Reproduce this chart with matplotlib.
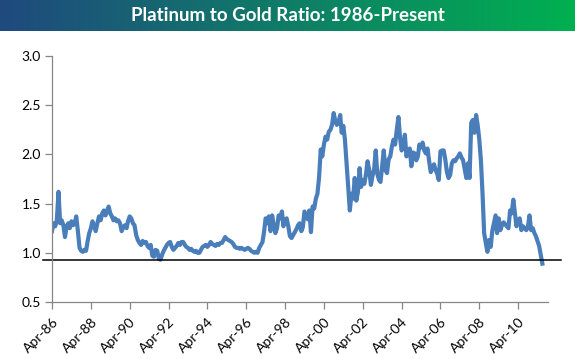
import numpy as np
import pandas as pd
import matplotlib
matplotlib.use("Agg")
import matplotlib.pyplot as plt
from matplotlib.colors import LinearSegmentedColormap
from matplotlib.transforms import blended_transform_factory, ScaledTranslation

TITLE = "Platinum to Gold Ratio: 1986-Present"

# monthly platinum/gold ratio, Apr 1986 - Jul 2011
months = pd.date_range("1986-04-01", "2011-07-01", freq="MS")
ratio = [
    1.22, 1.30, 1.27, 1.33, 1.62, 1.30, 1.33, 1.28, 1.16,                    # 1986 Apr-Dec
    1.27, 1.30, 1.25, 1.32, 1.28, 1.30, 1.37, 1.22, 1.05, 1.02, 1.01, 1.03,  # 1987
    1.02, 1.12, 1.20, 1.25, 1.32, 1.27, 1.22, 1.30, 1.37, 1.33, 1.40, 1.43,  # 1988
    1.38, 1.43, 1.47, 1.40, 1.37, 1.33, 1.35, 1.32, 1.33, 1.30, 1.22, 1.26,  # 1989
    1.28, 1.25, 1.32, 1.37, 1.35, 1.30, 1.28, 1.18, 1.13, 1.10, 1.08, 1.12,  # 1990
    1.10, 1.11, 1.07, 1.05, 1.08, 0.97, 0.96, 1.03, 1.02, 0.94, 0.93, 0.98,  # 1991
    1.02, 1.05, 1.08, 1.10, 1.11, 1.06, 1.03, 1.05, 1.07, 1.10, 1.08, 1.11,  # 1992
    1.11, 1.08, 1.06, 1.05, 1.03, 1.04, 1.02, 1.01, 1.02, 1.00, 1.00, 1.03,  # 1993
    1.06, 1.07, 1.08, 1.06, 1.08, 1.11, 1.09, 1.08, 1.07, 1.09, 1.08, 1.10,  # 1994
    1.10, 1.13, 1.16, 1.14, 1.13, 1.12, 1.11, 1.09, 1.06, 1.05, 1.05, 1.04,  # 1995
    1.05, 1.04, 1.03, 1.04, 1.05, 1.04, 1.02, 1.01, 1.00, 1.01, 1.00, 1.05,  # 1996
    1.08, 1.11, 1.21, 1.35, 1.30, 1.37, 1.22, 1.38, 1.28, 1.20, 1.25, 1.38,  # 1997
    1.35, 1.42, 1.27, 1.33, 1.35, 1.27, 1.17, 1.15, 1.18, 1.21, 1.24, 1.28,  # 1998
    1.30, 1.22, 1.26, 1.42, 1.38, 1.34, 1.43, 1.21, 1.47, 1.45, 1.55, 1.60,  # 1999
    1.77, 2.05, 1.98, 2.10, 2.18, 2.15, 2.23, 2.25, 2.30, 2.42, 2.34, 2.30,  # 2000
    2.33, 2.40, 2.22, 2.29, 2.15, 1.91, 1.67, 1.43, 1.60, 1.55, 1.76, 1.53,  # 2001
    1.62, 1.86, 1.67, 1.74, 1.70, 1.80, 1.93, 1.84, 1.69, 1.78, 1.85, 2.04,  # 2002
    1.80, 1.74, 1.72, 1.88, 2.04, 1.84, 1.81, 1.95, 1.98, 2.08, 2.15, 2.10,  # 2003
    2.25, 2.38, 2.18, 2.04, 2.08, 2.20, 1.98, 2.03, 2.06, 1.88, 2.02, 2.01,  # 2004
    1.94, 1.98, 2.10, 2.07, 2.12, 2.04, 2.01, 2.06, 1.93, 1.82, 1.86, 1.90,  # 2005
    1.84, 1.80, 1.74, 2.03, 2.04, 2.04, 1.95, 1.82, 1.76, 1.79, 1.91, 1.94,  # 2006
    1.93, 1.96, 1.98, 2.01, 1.97, 1.94, 1.85, 1.76, 1.91, 1.76, 2.32, 2.35,  # 2007
    2.22, 2.40, 2.30, 2.15, 1.94, 1.60, 1.20, 1.10, 1.01, 1.13, 1.06, 1.22,  # 2008
    1.30, 1.38, 1.20, 1.35, 1.23, 1.28, 1.31, 1.29, 1.27, 1.25, 1.43, 1.40,  # 2009
    1.54, 1.40, 1.27, 1.33, 1.35, 1.23, 1.27, 1.25, 1.23, 1.26, 1.38, 1.23,  # 2010
    1.25, 1.20, 1.17, 1.12, 1.07, 0.98, 0.89,                                # 2011 Jan-Jul
]
threshold = 0.93

tick_years = list(range(1986, 2011, 2))
tick_labels = ["Apr-%02d" % (y % 100) for y in tick_years]
y_ticks = [0.5, 1.0, 1.5, 2.0, 2.5, 3.0]

fig = plt.figure(figsize=(5.75, 3.59), dpi=100)
plt.rcParams["font.family"] = ["Lato", "DejaVu Sans"]

# gradient title banner
bar_h = 31 / 359
bax = fig.add_axes([0, 1 - bar_h, 1, bar_h])
cmap = LinearSegmentedColormap.from_list("banner", ["#1f4a7e", "#00b050"])
bax.imshow(np.linspace(0, 1, 256)[None, :], aspect="auto", cmap=cmap,
           extent=[0, 1, 0, 1])
bax.set_axis_off()
bax.text(0.5, 0.5, TITLE, color="white", fontsize=13.5, fontweight="bold",
         ha="center", va="center", transform=bax.transAxes)

ax = fig.add_axes([52 / 575, 1 - 302 / 359, 496 / 575, 246 / 359])
ax.plot(months, ratio, color="#4a7ebb", lw=3.0, solid_joinstyle="round")

trans = blended_transform_factory(ax.transAxes, ax.transData)
ax.plot([-0.018, 1.026], [threshold, threshold], color="black", lw=1.1,
        transform=trans, clip_on=False)

ax.set_ylim(0.5, 3.0)
ax.set_yticks(y_ticks)
ax.set_yticklabels(["%.1f" % v for v in y_ticks])
ax.set_xlim(pd.Timestamp("1986-04-01"), pd.Timestamp("2011-10-15"))
ax.set_xticks([pd.Timestamp("%d-04-01" % y) for y in tick_years])
ax.set_xticklabels(tick_labels, rotation=45, ha="right", va="top",
                   rotation_mode="anchor")
shift = ScaledTranslation(3 / 100, 0, fig.dpi_scale_trans)
for lbl in ax.get_xticklabels():
    lbl.set_transform(lbl.get_transform() + shift)

for side in ["top", "right"]:
    ax.spines[side].set_visible(False)
for side in ["left", "bottom"]:
    ax.spines[side].set_color("#868686")
    ax.spines[side].set_linewidth(0.9)
ax.tick_params(axis="both", colors="#868686", labelcolor="black",
               labelsize=10, length=5, width=0.9, direction="out")
ax.tick_params(axis="y", pad=3)
ax.tick_params(axis="x", pad=5)

fig.savefig("out.png", dpi=100)
